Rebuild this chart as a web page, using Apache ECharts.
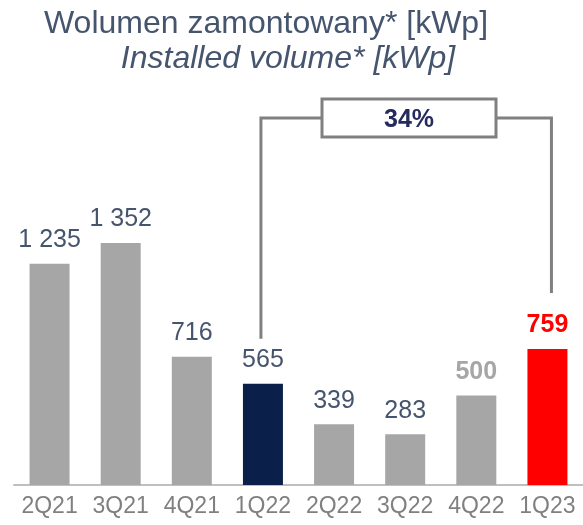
<!DOCTYPE html>
<html>
<head>
<meta charset="utf-8">
<script src="https://cdn.jsdelivr.net/npm/echarts@6/dist/echarts.min.js"></script>
<style>
  html, body { margin: 0; padding: 0; background: #fff; }
  #chart { width: 583px; height: 525px; }
</style>
</head>
<body>
<div id="chart"></div>
<script>
// dane
var quarters = ['2Q21', '3Q21', '4Q21', '1Q22', '2Q22', '3Q22', '4Q22', '1Q23'];
var volume = [1235, 1352, 716, 565, 339, 283, 500, 759];
var barColors = ['#a6a6a6', '#a6a6a6', '#a6a6a6', '#0b1f4b', '#a6a6a6', '#a6a6a6', '#a6a6a6', '#ff0000'];
var labelColors = ['#46556e', '#46556e', '#46556e', '#46556e', '#46556e', '#46556e', '#a6a6a6', '#ff0000'];
var labelBold = [false, false, false, false, false, false, true, true];
var growthText = '34%';

var chart = echarts.init(document.getElementById('chart'));

function fmt(v) {
  return String(v).replace(/\B(?=(\d{3})+(?!\d))/g, ' ');
}

var option = {
  animation: false,
  grid: { left: 14, top: 100, width: 572, bottom: 40 },
  xAxis: {
    type: 'category',
    data: quarters,
    axisTick: { show: false },
    axisLine: { lineStyle: { color: '#bfbfbf', width: 2 } },
    axisLabel: { interval: 0, hideOverlap: false, color: '#808080', fontSize: 23, fontFamily: 'Liberation Sans', margin: 10 }
  },
  yAxis: {
    type: 'value',
    min: 0,
    max: 2150,
    show: false
  },
  series: [{
    type: 'bar',
    barWidth: 40,
    data: volume.map(function (v, i) {
      return {
        value: v,
        itemStyle: { color: barColors[i] },
        label: {
          color: labelColors[i],
          fontWeight: labelBold[i] ? 'bold' : 'normal'
        }
      };
    }),
    label: {
      show: true,
      position: 'top',
      distance: 11,
      fontSize: 25,
      fontFamily: 'Liberation Sans',
      formatter: function (p) { return fmt(p.value); }
    }
  }]
};
chart.setOption(option);

// klamra z opisem wzrostu
var pL = chart.convertToPixel({ seriesIndex: 0 }, [3, volume[3]]);
var pR = chart.convertToPixel({ seriesIndex: 0 }, [7, volume[7]]);
var xl = pL[0] - 2, xr = pR[0] + 4;
var yTop = 118;
var boxL = 322, boxR = 496;
var lineStyle = { stroke: '#808080', lineWidth: 3, fill: null };

chart.setOption({
  graphic: [
    { type: 'text', style: { text: 'Wolumen zamontowany* [kWp]', x: 266, y: 24, textAlign: 'center', textVerticalAlign: 'middle', fill: '#46556e', font: '32px "Liberation Sans"' } },
    { type: 'text', style: { text: 'Installed volume* [kWp]', x: 288, y: 59, textAlign: 'center', textVerticalAlign: 'middle', fill: '#46556e', font: 'italic 32px "Liberation Sans"' } },
    { type: 'polyline', shape: { points: [[xl, pL[1] - 45], [xl, yTop], [boxL, yTop]] }, style: lineStyle },
    { type: 'polyline', shape: { points: [[boxR, yTop], [xr, yTop], [xr, pR[1] - 56]] }, style: lineStyle },
    { type: 'rect', shape: { x: boxL, y: 99, width: boxR - boxL, height: 38 }, style: { stroke: '#808080', lineWidth: 3, fill: '#fff' } },
    { type: 'text', style: { text: growthText, x: (boxL + boxR) / 2, y: 120, textAlign: 'center', textVerticalAlign: 'middle', fill: '#252b5c', font: 'bold 25px "Liberation Sans"' } }
  ]
});
</script>
</body>
</html>
